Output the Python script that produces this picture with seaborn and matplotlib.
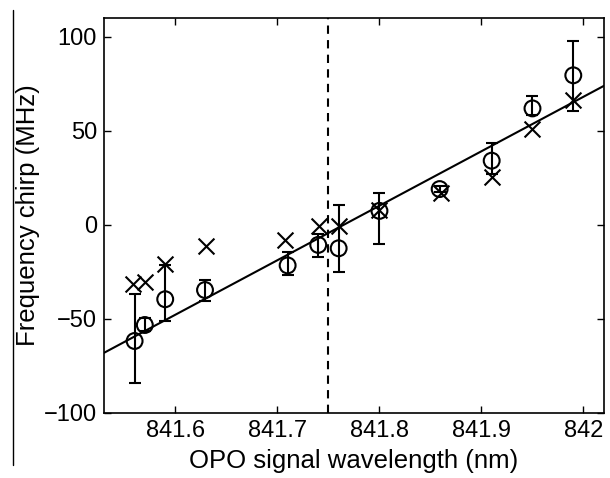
import matplotlib
matplotlib.use('Agg')
import matplotlib.pyplot as plt
from matplotlib.lines import Line2D
import seaborn as sns
import pandas as pd

# measured points (circles) with asymmetric error bars
wl_meas = [841.560, 841.570, 841.590, 841.629, 841.710, 841.740, 841.760,
           841.800, 841.859, 841.910, 841.950, 841.990]
chirp_meas = [-61.7, -53.2, -39.5, -34.6, -21.5, -10.6, -12.4,
              7.5, 19.1, 34.2, 62.0, 79.6]
err_low = [22.2, 3.0, 11.5, 5.8, 5.0, 6.6, 12.8,
           17.8, 1.5, 7.0, 3.5, 18.8]
err_high = [24.8, 3.6, 18.2, 5.3, 7.0, 6.0, 23.0,
            9.4, 1.5, 9.3, 6.8, 18.3]

# calculated points (crosses)
wl_calc = [841.558, 841.570, 841.590, 841.630, 841.707, 841.741, 841.760,
           841.800, 841.860, 841.910, 841.950, 841.990]
chirp_calc = [-31.4, -30.1, -20.9, -11.0, -8.0, -0.4, -0.4,
              8.0, 16.8, 25.5, 51.0, 66.5]

# linear fit (end points)
fit_wl = [841.53, 842.02]
fit_chirp = [-68.0, 74.0]

marker_wl = 841.75

df_meas = pd.DataFrame({'wl': wl_meas, 'chirp': chirp_meas,
                        'lo': err_low, 'hi': err_high})
df_calc = pd.DataFrame({'wl': wl_calc, 'chirp': chirp_calc})
df_fit = pd.DataFrame({'wl': fit_wl, 'chirp': fit_chirp})

sns.set_style('ticks')
plt.rcParams['font.family'] = ['Liberation Sans', 'DejaVu Sans']
plt.rcParams['text.color'] = 'black'
plt.rcParams['axes.labelcolor'] = 'black'
plt.rcParams['xtick.color'] = 'black'
plt.rcParams['ytick.color'] = 'black'

fig = plt.figure(figsize=(6.1, 4.78), dpi=100)
ax = fig.add_axes([0.1705, 0.136, 0.8195, 0.826])

sns.lineplot(data=df_fit, x='wl', y='chirp', color='black', linewidth=1.5, ax=ax)
ax.axvline(marker_wl, color='black', linestyle=(0, (4, 3)), linewidth=1.5)

ax.errorbar(df_meas['wl'], df_meas['chirp'], yerr=[df_meas['lo'], df_meas['hi']],
            fmt='none', ecolor='black', elinewidth=1.5, capsize=4, capthick=1.5)
sns.scatterplot(data=df_meas, x='wl', y='chirp', marker='o', s=130,
                facecolor='none', edgecolor='black', linewidth=1.5, ax=ax)
sns.scatterplot(data=df_calc, x='wl', y='chirp', marker='x', s=130,
                color='black', linewidth=1.5, ax=ax)

ax.set_xlim(841.53, 842.02)
ax.set_ylim(-100, 110)
ax.set_xticks([841.6, 841.7, 841.8, 841.9, 842])
ax.set_xticklabels(['841.6', '841.7', '841.8', '841.9', '842'])
ax.set_yticks([-100, -50, 0, 50, 100])
ax.set_yticklabels(['\u2212100', '\u221250', '0', '50', '100'])
ax.tick_params(direction='in', top=True, right=True, length=5, width=1,
               labelsize=17, pad=5)
for s in ax.spines.values():
    s.set_linewidth(1.2)
    s.set_color('black')

ax.set_xlabel('OPO signal wavelength (nm)', fontsize=18.5, labelpad=5)
ax.set_ylabel('Frequency chirp (MHz)', fontsize=18.5, labelpad=3)

fig.add_artist(Line2D([0.0213, 0.0213], [0.027, 0.979], color='black',
                      linewidth=1, transform=fig.transFigure))

fig.savefig('out.png', dpi=100)
